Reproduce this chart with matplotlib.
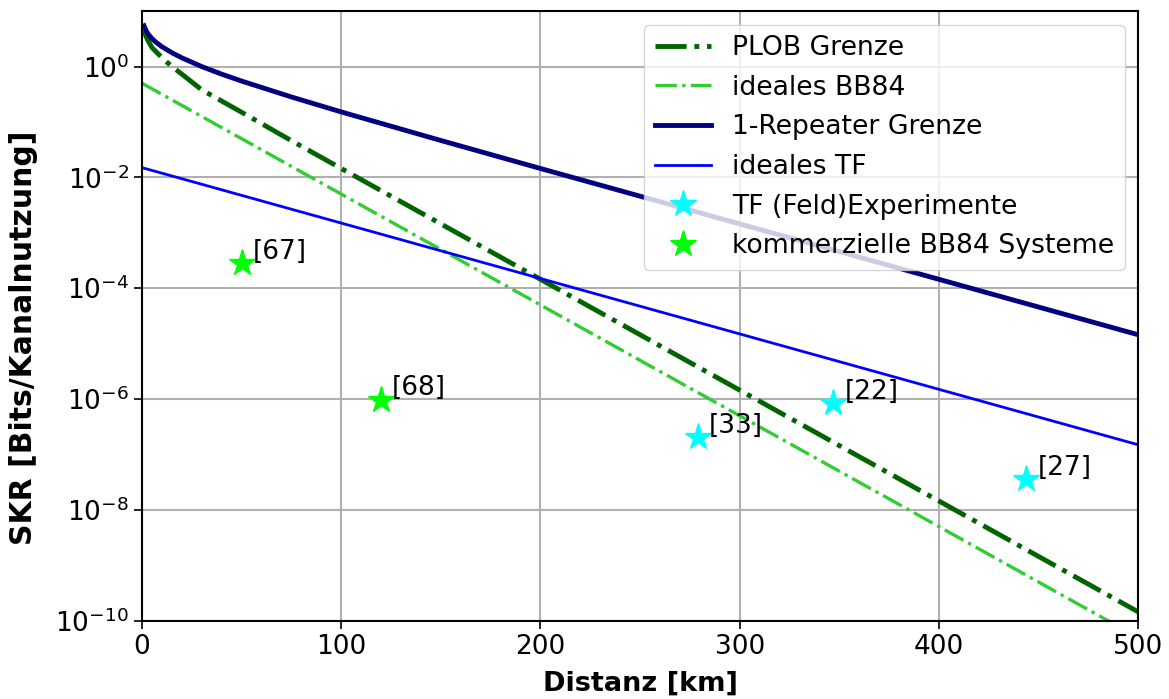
import matplotlib
matplotlib.use("Agg")
import matplotlib.pyplot as plt

# Data
plob_x = [1, 2, 3, 5, 7, 10, 15, 20, 30, 50, 75, 100, 150, 200, 300, 400, 500]
plob_y = [4.45, 3.5, 2.95, 2.2, 1.86, 1.45, 1.0, 0.73, 0.38, 0.15, 0.046, 0.0145,
          1.45e-3, 1.45e-4, 1.45e-6, 1.45e-8, 1.45e-10]

bb84_x = [0, 100, 200, 300, 400, 500]
bb84_y = [0.5, 5e-3, 5e-5, 5e-7, 5e-9, 5e-11]

rep_x = [1, 2, 3, 5, 7, 10, 15, 20, 30, 40, 50, 75, 100, 150, 200, 300, 400, 500]
rep_y = [5.45, 4.47, 3.9, 3.2, 2.75, 2.28, 1.78, 1.44, 1.0, 0.73, 0.548, 0.283, 0.152,
         0.0464, 0.0145, 1.45e-3, 1.45e-4, 1.45e-5]

tf_x = [0, 100, 200, 300, 400, 500]
tf_y = [1.5e-2, 1.5e-3, 1.5e-4, 1.5e-5, 1.5e-6, 1.5e-7]

tf_exp_x = [279, 347, 444]
tf_exp_y = [2.1e-7, 8.5e-7, 3.6e-8]
tf_exp_labels = ["[33]", "[22]", "[27]"]

bb84_exp_x = [50, 120]
bb84_exp_y = [2.9e-4, 9.8e-7]
bb84_exp_labels = ["[67]", "[68]"]

yticks = [1e0, 1e-2, 1e-4, 1e-6, 1e-8, 1e-10]
xticks = [0, 100, 200, 300, 400, 500]

fig = plt.figure(figsize=(11.69, 6.99), dpi=100)
ax = fig.add_axes([0.1215, 0.112, 0.852, 0.872])

ax.plot(plob_x, plob_y, color="darkgreen", lw=3.5, ls="-.", label="PLOB Grenze")
ax.plot(bb84_x, bb84_y, color="limegreen", lw=2.4, ls="-.", label="ideales BB84")
ax.plot(rep_x, rep_y, color="navy", lw=3.5, label="1-Repeater Grenze")
ax.plot(tf_x, tf_y, color="blue", lw=2, label="ideales TF")
ax.plot(tf_exp_x, tf_exp_y, ls="none", marker="*", color="cyan", ms=20, label="TF (Feld)Experimente")
ax.plot(bb84_exp_x, bb84_exp_y, ls="none", marker="*", color="lime", ms=20, label="kommerzielle BB84 Systeme")

for x, y, t in zip(tf_exp_x, tf_exp_y, tf_exp_labels):
    ax.annotate(t, (x, y), xytext=(8, 3), textcoords="offset points", fontsize=19)
for x, y, t in zip(bb84_exp_x, bb84_exp_y, bb84_exp_labels):
    ax.annotate(t, (x, y), xytext=(8, 3), textcoords="offset points", fontsize=19)

ax.set_yscale("log")
ax.set_xlim(0, 500)
ax.set_ylim(1e-10, 10)
ax.set_yticks(yticks)
ax.yaxis.set_minor_locator(matplotlib.ticker.NullLocator())
ax.set_xticks(xticks)
ax.tick_params(labelsize=19, length=6, width=1.2)
ax.grid(True, color="#b0b0b0", lw=1.5)
for s in ax.spines.values():
    s.set_linewidth(1.5)

ax.set_xlabel("Distanz [km]", fontsize=19.5, fontweight="bold")
ax.set_ylabel("SKR [Bits/Kanalnutzung]", fontsize=21.5, fontweight="bold")
ax.xaxis.set_label_coords(0.5, -0.082)
ax.yaxis.set_label_coords(-0.104, 0.464)

ax.legend(loc="upper right", fontsize=19.2, handlelength=2.1, borderpad=0.4, labelspacing=0.51,
          framealpha=0.8)

fig.savefig("out.png", dpi=100)
